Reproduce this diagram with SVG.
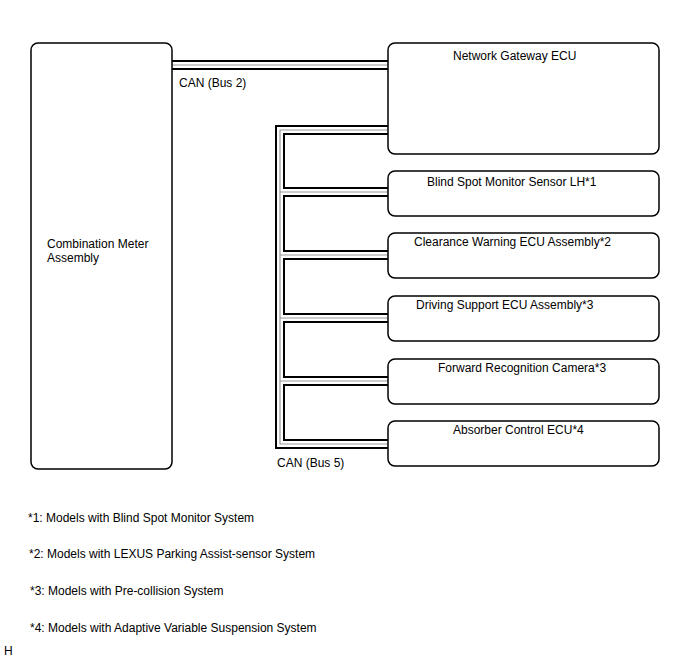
<svg xmlns="http://www.w3.org/2000/svg" width="688" height="658" viewBox="0 0 688 658">
<style>
.box{fill:#fff;stroke:#000;stroke-width:1.5}
text{font-family:"Liberation Sans",Arial,sans-serif;font-size:12px;fill:#000}
.b1{fill:none;stroke:#000;stroke-width:10}
.b2{fill:none;stroke:#fff;stroke-width:6}
.b3{fill:none;stroke:#999;stroke-width:1.2}
</style>
<rect width="688" height="658" fill="#fff"/>
<g id="connectors">
<g class="b1">
<path d="M172 65H388"/>
<path d="M388 130H280V444H388"/>
<path d="M280 192H388M280 255H388M280 318H388M280 381H388"/>
</g>
<g class="b2">
<path d="M172 65H388"/>
<path d="M388 130H280V444H388"/>
<path d="M280 192H388M280 255H388M280 318H388M280 381H388"/>
</g>
<g class="b3">
<path d="M172 65H388"/>
<path d="M388 130H280V444H388"/>
<path d="M280 192H388M280 255H388M280 318H388M280 381H388"/>
</g>
<text x="179" y="87">CAN (Bus 2)</text>
<text x="277" y="467">CAN (Bus 5)</text>
</g>
<g id="combination-meter">
<rect class="box" x="31" y="43" width="141" height="426" rx="7"/>
<text x="47" y="248">Combination Meter</text>
<text x="47" y="262">Assembly</text>
</g>
<g id="gateway">
<rect class="box" x="388" y="43" width="271" height="111" rx="7"/>
<text x="453" y="60">Network Gateway ECU</text>
</g>
<g id="bsm">
<rect class="box" x="388" y="171" width="271" height="45" rx="7"/>
<text x="427" y="186">Blind Spot Monitor Sensor LH*1</text>
</g>
<g id="clearance">
<rect class="box" x="388" y="233" width="271" height="45" rx="7"/>
<text x="414" y="246">Clearance Warning ECU Assembly*2</text>
</g>
<g id="driving">
<rect class="box" x="388" y="296" width="271" height="45" rx="7"/>
<text x="416" y="309">Driving Support ECU Assembly*3</text>
</g>
<g id="forward">
<rect class="box" x="388" y="359" width="271" height="45" rx="7"/>
<text x="438" y="372">Forward Recognition Camera*3</text>
</g>
<g id="absorber">
<rect class="box" x="388" y="421" width="271" height="45" rx="7"/>
<text x="453" y="434">Absorber Control ECU*4</text>
</g>
<g id="notes">
<text x="28" y="522">*1: Models with Blind Spot Monitor System</text>
<text x="29" y="558">*2: Models with LEXUS Parking Assist-sensor System</text>
<text x="30" y="595">*3: Models with Pre-collision System</text>
<text x="30" y="632">*4: Models with Adaptive Variable Suspension System</text>
<text x="4" y="655">H</text>
</g>
</svg>
